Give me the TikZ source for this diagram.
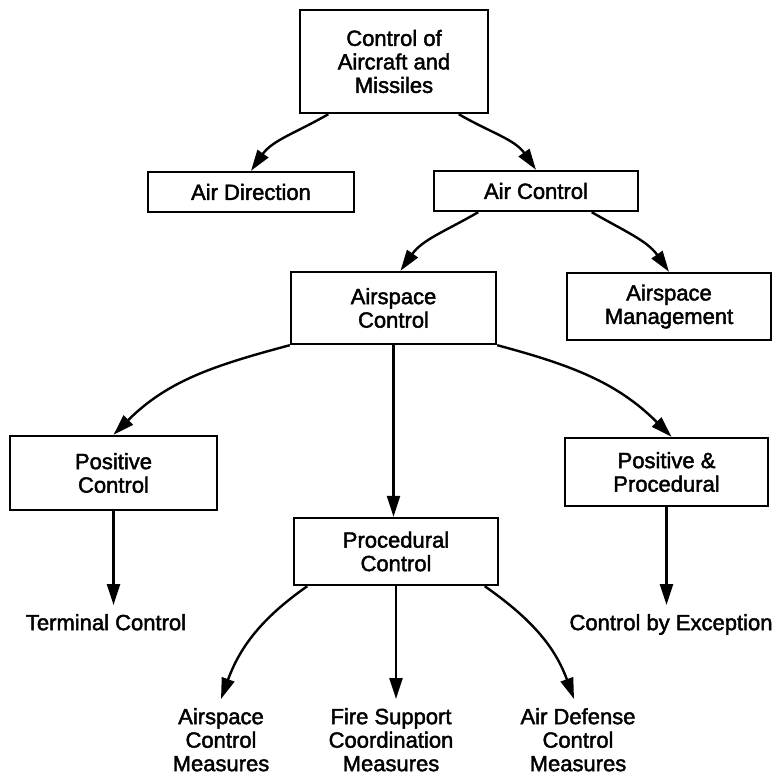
\documentclass[tikz,border=0pt]{standalone}
\usepackage{fontspec}
\setmainfont{Liberation Sans}[FakeBold=2]
\usetikzlibrary{arrows.meta,%
                calc,%
                positioning}

\begin{document}
\begin{tikzpicture}[x=1pt, y=1pt,
font=\fontsize{22}{23.5}\selectfont,
box/.style={rectangle, draw=black, align=center, inner sep=0pt},
%
leaf/.style={align=center, inner sep=8pt, anchor=north},
%
link/.style={-{Triangle[length=21pt, width=13pt]}, draw=black}]

\tikzset{every path/.style={line width=2.4pt}}

\useasboundingbox (0,0) rectangle (775,-778);

% boxes
\node [box, minimum width=188pt, minimum height=103pt] (top) at (394,-61.5) {Control of\\Aircraft and\\Missiles};
%%%%%%%%%%%%%%%%%%%%%%%%%%%%%%%%%%
\node [box, minimum width=206pt, minimum height=40pt] (airdir) at (251,-192) {Air Direction};
\node [box, minimum width=204pt, minimum height=40pt] (airctl) at (536,-191) {Air Control};
%%%%%%%%%%%%%%%%%%%%%%%%%%%%%%%%%%
\node [box, minimum width=205pt, minimum height=72pt] (asc) at (393.5,-308) {Airspace\\Control};
\node [box, minimum width=204pt, minimum height=67pt] (asm) at (669,-306.5) {Airspace\\Management};
%%%%%%%%%%%%%%%%%%%%%%%%%%%%%%%%%%
\node [box, minimum width=207pt, minimum height=74pt] (posctl) at (113.5,-473) {Positive\\Control};
\node [box, minimum width=204pt, minimum height=67pt] (proc) at (396,-551.5) {Procedural\\Control};
\node [box, minimum width=203pt, minimum height=68pt] (pnp) at (666.5,-472) {Positive \&\\Procedural};

% plain texts
\node [leaf] (term) at (106,-605) {Terminal Control};
\node [leaf] (cbe) at (671,-605) {Control by Exception};
%%%%%%%%%%%%%%%%%%%%%%%%%%%%%%%%%%
\node [leaf] (acm) at (221,-699) {Airspace\\Control\\Measures};
\node [leaf] (fscm) at (391,-699) {Fire Support\\Coordination\\Measures};
\node [leaf] (adcm) at (578,-699) {Air Defense\\Control\\Measures};

\begin{scope}
  \draw[link] ($(top.south west)!0.155!(top.south east)$) to[out=210, in=55] (airdir.north);
  \draw[link] ($(top.south west)!0.84!(top.south east)$) to[out=-30, in=125] (airctl.north);
  %%%%%%%%%%%%%%%%%%%%%%%%%%%%%%%%%%%%%
  \draw[link] ($(airctl.south west)!0.22!(airctl.south east)$) to[out=210, in=55] ([xshift=7pt]asc.north);
  \draw[link] ($(airctl.south west)!0.77!(airctl.south east)$) to[out=-30, in=125] (asm.north);
  %%%%%%%%%%%%%%%%%%%%%%%%%%%%%%%%%%%%%
  \draw[link] (asc.south west) to[out=195, in=45] (posctl.north);
  \draw[link] (asc.south) -- (asc.south |- proc.north);
  \draw[link] (asc.south east) to[out=-15, in=135] ([xshift=5pt]pnp.north);
  %%%%%%%%%%%%%%%%%%%%%%%%%%%%%%%%%%%%%
  \draw[link] (posctl.south) -- (posctl.south |- term.north);
  \draw[link] (pnp.south) -- (pnp.south |- cbe.north);
  %%%%%%%%%%%%%%%%%%%%%%%%%%%%%%%%%%%%%
  \draw[link] ($(proc.south west)!0.07!(proc.south east)$) to[out=215, in=70] (acm.north);
  \draw[link] (proc.south) -- (proc.south |- fscm.north);
  \draw[link] ($(proc.south west)!0.93!(proc.south east)$) to[out=-35, in=110] ([xshift=-4pt]adcm.north);
\end{scope}

\end{tikzpicture}
\end{document}
